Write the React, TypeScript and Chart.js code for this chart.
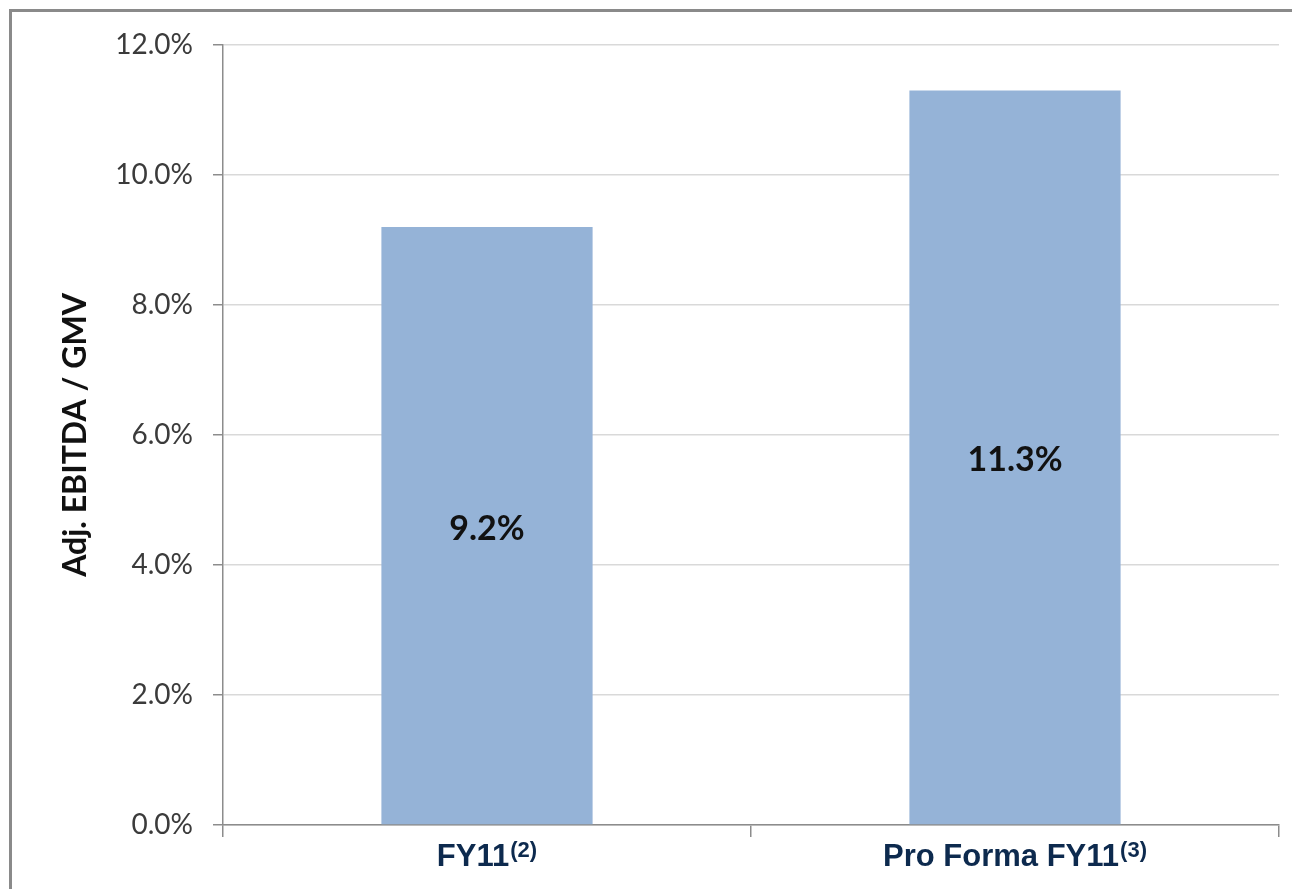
import React, { useEffect, useRef } from "react";
import { Chart, registerables } from "chart.js";

Chart.register(...registerables);

const categories = ["FY11", "Pro Forma FY11"];
const footnotes = ["(2)", "(3)"];
const margins = [9.2, 11.3];
const valueLabels = ["9.2%", "11.3%"];
const yTicks = [0, 2, 4, 6, 8, 10, 12];
const yAxisTitle = "Adj. EBITDA / GMV";

export default function App() {
  const ref = useRef<HTMLCanvasElement>(null);

  useEffect(() => {
    const canvas = ref.current;
    if (!canvas) return;

    const valuePlugin = {
      id: "valueLabels",
      afterDatasetsDraw(chart: any) {
        const ctx = chart.ctx;
        const meta = chart.getDatasetMeta(0);
        ctx.save();
        ctx.font = "bold 34px Lato";
        ctx.fillStyle = "#111111";
        ctx.textAlign = "center";
        ctx.textBaseline = "middle";
        meta.data.forEach((el: any, i: number) => {
          const p = el.getProps(["x", "y", "base"], true);
          ctx.fillText(valueLabels[i], p.x, (p.y + p.base) / 2 + 3);
        });
        ctx.restore();
      },
    };

    const xLabelPlugin = {
      id: "xLabels",
      afterDraw(chart: any) {
        const ctx = chart.ctx;
        const xs = chart.scales.x;
        ctx.save();
        ctx.fillStyle = "#0d2a4e";
        ctx.textBaseline = "alphabetic";
        ctx.textAlign = "left";
        const mainFont = "bold 31px 'Liberation Sans', Arial, sans-serif";
        const supFont = "bold 22px 'Liberation Sans', Arial, sans-serif";
        categories.forEach((c, i) => {
          const cx = xs.getPixelForValue(i);
          ctx.font = mainFont;
          const w1 = ctx.measureText(c).width;
          ctx.font = supFont;
          const w2 = ctx.measureText(footnotes[i]).width;
          const gap = 1;
          const start = cx - (w1 + gap + w2) / 2;
          const baseline = chart.chartArea.bottom + 41;
          ctx.font = mainFont;
          ctx.fillText(c, start, baseline);
          ctx.font = supFont;
          ctx.fillText(footnotes[i], start + w1 + gap, baseline - 9);
        });
        ctx.restore();
      },
    };

    const chart = new Chart(canvas, {
      type: "bar",
      data: {
        labels: categories,
        datasets: [
          {
            data: margins,
            backgroundColor: "#95b3d7",
            borderWidth: 0,
            barPercentage: 0.4,
            categoryPercentage: 1,
          },
        ],
      },
      options: {
        animation: false,
        responsive: true,
        maintainAspectRatio: false,
        layout: { padding: { left: 52, top: 45, right: 13, bottom: 0 } },
        plugins: {
          legend: { display: false },
          tooltip: { enabled: false },
        },
        scales: {
          x: {
            offset: true,
            grid: {
              offset: true,
              drawOnChartArea: false,
              drawTicks: true,
              tickLength: 12,
              color: "#8c8c8c",
              lineWidth: 1.5,
            },
            border: { color: "#8c8c8c", width: 1.5 },
            ticks: { display: false },
            afterFit: (s: any) => {
              s.height = 64;
            },
          },
          y: {
            min: 0,
            max: 12,
            afterBuildTicks: (s: any) => {
              s.ticks = yTicks.map((v) => ({ value: v }));
            },
            ticks: {
              padding: 20,
              color: "#3b3b3b",
              font: { family: "Lato", size: 28 },
              callback: (v: any) => Number(v).toFixed(1) + "%",
            },
            grid: {
              color: "#d9d9d9",
              lineWidth: 1.5,
              tickColor: "#8c8c8c",
              tickLength: 10,
            },
            border: { color: "#8c8c8c", width: 1.5 },
            title: {
              display: true,
              text: yAxisTitle,
              color: "#111111",
              font: { family: "Lato", size: 32, weight: "bold" },
              padding: { top: 4, bottom: 4 },
            },
            afterFit: (s: any) => {
              s.width = 171;
            },
          },
        },
      },
      plugins: [valuePlugin, xLabelPlugin],
    });

    return () => chart.destroy();
  }, []);

  return (
    <div
      style={{
        position: "fixed",
        left: 0,
        top: 0,
        width: 1292,
        height: 889,
        overflow: "hidden",
        background: "#ffffff",
      }}
    >
      <div
        style={{
          position: "absolute",
          left: 9,
          top: 9,
          width: 1320,
          height: 920,
          border: "3px solid #8a8a8a",
          boxSizing: "border-box",
        }}
      />
      <div style={{ position: "absolute", left: 0, top: 0, width: 1292, height: 889 }}>
        <canvas ref={ref} />
      </div>
    </div>
  );
}
